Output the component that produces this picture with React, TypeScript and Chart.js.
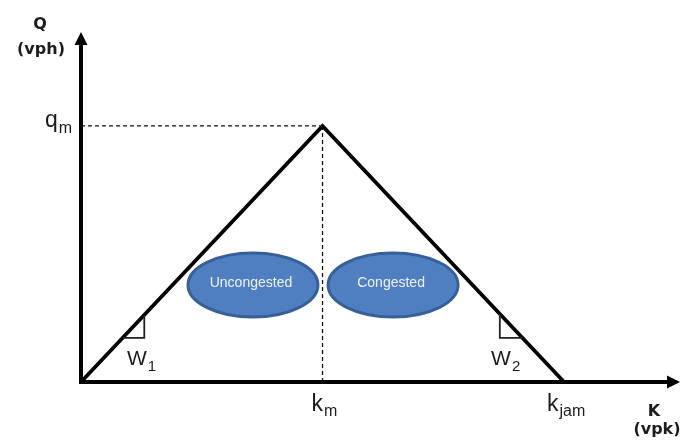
import React, { useEffect, useRef } from "react";
import { Chart, registerables } from "chart.js";

Chart.register(...registerables);

// ---- data ----
const densityPoints = [0, 50, 100]; // k: 0, k_m, k_jam
const flowPoints = [0, 100, 0]; // q: 0, q_m, 0
const kMax = 124;
const qMax = 136.7;

const xTickValues = [50, 100];
const xTickMain = ["k", "k"];
const xTickSub = ["m", "jam"];
const yTickValues = [100];
const yTickMain = ["q"];
const yTickSub = ["m"];

const xAxisTitle = ["K", "(vpk)"];
const yAxisTitle = ["Q", "(vph)"];

const regionLabels = ["Uncongested", "Congested"];
const regionK = [35.6, 64.6];
const regionQ = [37.9, 37.9];

const waveLabels = ["W", "W"];
const waveSubs = ["1", "2"];
const waveCornerK = [13.1, 86.7];
const waveCornerQ = [17.2, 17.2];
const waveLabelK = [9.5, 84.9];
const waveLabelQ = [6.6, 6.6];

const km = densityPoints[1];
const kjam = densityPoints[2];
const qm = flowPoints[1];

function onLine(k: number) {
  return k <= km ? (qm * k) / km : (qm * (kjam - k)) / (kjam - km);
}
function kOnLine(q: number, rising: boolean) {
  return rising ? (km * q) / qm : kjam - ((kjam - km) * q) / qm;
}

const drawPlugin = {
  id: "fdDraw",
  afterDatasetsDraw(chart: any) {
    const ctx = chart.ctx;
    const xs = chart.scales.x;
    const ys = chart.scales.y;
    const ox = xs.getPixelForValue(0);
    const oy = ys.getPixelForValue(0);
    const xEnd = xs.getPixelForValue(xs.max);
    const yEnd = ys.getPixelForValue(ys.max);
    ctx.save();

    // ellipses
    regionLabels.forEach((label, i) => {
      const cx = xs.getPixelForValue(regionK[i]);
      const cy = ys.getPixelForValue(regionQ[i]);
      ctx.beginPath();
      ctx.ellipse(cx, cy, 65, 32, 0, 0, Math.PI * 2);
      ctx.fillStyle = "#4f7fc0";
      ctx.fill();
      ctx.lineWidth = 3;
      ctx.strokeStyle = "#37609a";
      ctx.stroke();
      ctx.fillStyle = "#eef3fb";
      ctx.font = "14px 'Liberation Sans', Arial, sans-serif";
      ctx.textAlign = "center";
      ctx.textBaseline = "middle";
      ctx.fillText(label, cx - 2, cy - 2);
    });

    // axes
    ctx.strokeStyle = "#000";
    ctx.fillStyle = "#000";
    ctx.lineWidth = 4;
    ctx.lineCap = "butt";
    ctx.beginPath();
    ctx.moveTo(ox - 2, oy);
    ctx.lineTo(xEnd - 11, oy);
    ctx.stroke();
    ctx.beginPath();
    ctx.moveTo(xEnd, oy);
    ctx.lineTo(xEnd - 13, oy - 6.5);
    ctx.lineTo(xEnd - 13, oy + 6.5);
    ctx.closePath();
    ctx.fill();
    ctx.beginPath();
    ctx.moveTo(ox, oy + 2);
    ctx.lineTo(ox, yEnd + 11);
    ctx.stroke();
    ctx.beginPath();
    ctx.moveTo(ox, yEnd);
    ctx.lineTo(ox - 6.5, yEnd + 13);
    ctx.lineTo(ox + 6.5, yEnd + 13);
    ctx.closePath();
    ctx.fill();

    const textColor = "#1c1c1c";
    const mainFont = "23px 'Liberation Sans', Arial, sans-serif";
    const subFont = "16px 'Liberation Sans', Arial, sans-serif";
    const drawSub = (
      main: string,
      sub: string,
      x: number,
      y: number,
      align: string,
      mf: string,
      sf: string,
      subDrop: number
    ) => {
      ctx.font = mf;
      const mw = ctx.measureText(main).width;
      ctx.font = sf;
      const sw = ctx.measureText(sub).width;
      const total = mw + 1 + sw;
      let start = x;
      if (align === "center") start = x - total / 2;
      if (align === "right") start = x - total;
      ctx.fillStyle = textColor;
      ctx.textAlign = "left";
      ctx.textBaseline = "alphabetic";
      ctx.font = mf;
      ctx.fillText(main, start, y);
      ctx.font = sf;
      ctx.fillText(sub, start + mw + 1, y + subDrop);
    };

    xTickValues.forEach((v, i) => {
      const px = xs.getPixelForValue(v);
      drawSub(xTickMain[i], xTickSub[i], px + 2, oy + 29, "center", mainFont, subFont, 5);
    });
    yTickValues.forEach((v, i) => {
      const py = ys.getPixelForValue(v);
      drawSub(yTickMain[i], yTickSub[i], ox - 9, py + 1, "right", mainFont, subFont, 6);
    });
    waveLabels.forEach((w, i) => {
      const px = xs.getPixelForValue(waveLabelK[i]);
      const py = ys.getPixelForValue(waveLabelQ[i]);
      drawSub(w, waveSubs[i], px, py, "left", "21px 'Liberation Sans', Arial, sans-serif", "15px 'Liberation Sans', Arial, sans-serif", 6);
    });

    // axis titles
    ctx.fillStyle = textColor;
    ctx.font = "bold 16px 'DejaVu Sans', Verdana, sans-serif";
    ctx.textAlign = "center";
    ctx.textBaseline = "middle";
    ctx.fillText(yAxisTitle[0], ox - 41, yEnd - 7);
    ctx.fillText(yAxisTitle[1], ox - 40, yEnd + 18);
    ctx.fillText(xAxisTitle[0], xEnd - 26, oy + 30);
    ctx.fillText(xAxisTitle[1], xEnd - 23, oy + 48);

    ctx.restore();
  },
};

export default function App() {
  const ref = useRef<HTMLCanvasElement | null>(null);
  useEffect(() => {
    if (!ref.current) return;
    const line = densityPoints.map((k, i) => ({ x: k, y: flowPoints[i] }));
    const markSets = waveCornerK.map((ck, i) => {
      const cq = waveCornerQ[i];
      const rising = ck <= km;
      return {
        data: [
          { x: kOnLine(cq, rising), y: cq },
          { x: ck, y: cq },
          { x: ck, y: onLine(ck) },
        ],
        borderColor: "#222",
        borderWidth: 1.8,
        pointRadius: 0,
        showLine: true,
        clip: false as any,
      };
    });
    const chart = new Chart(ref.current, {
      type: "scatter",
      data: {
        datasets: [
          {
            data: [
              { x: 0, y: qm },
              { x: km, y: qm },
            ],
            borderColor: "#111",
            borderWidth: 1.3,
            borderDash: [4, 3],
            pointRadius: 0,
            showLine: true,
            clip: false as any,
          },
          {
            data: [
              { x: km, y: 0 },
              { x: km, y: qm },
            ],
            borderColor: "#111",
            borderWidth: 1.3,
            borderDash: [4, 3],
            pointRadius: 0,
            showLine: true,
            clip: false as any,
          },
          ...markSets,
          {
            data: line,
            borderColor: "#000",
            borderWidth: 3.8,
            borderJoinStyle: "miter",
            pointRadius: 0,
            showLine: true,
            tension: 0,
            clip: false as any,
          },
        ],
      },
      options: {
        animation: false,
        responsive: false,
        layout: { padding: { left: 81, right: 4, top: 32, bottom: 62 } },
        plugins: { legend: { display: false }, tooltip: { enabled: false } },
        events: [],
        scales: {
          x: { type: "linear", display: false, min: 0, max: kMax },
          y: { type: "linear", display: false, min: 0, max: qMax },
        },
      },
      plugins: [drawPlugin],
    });
    return () => chart.destroy();
  }, []);
  return (
    <div style={{ position: "absolute", left: 0, top: 0, width: 684, height: 444, background: "#fff" }}>
      <canvas ref={ref} width={684} height={444} />
    </div>
  );
}
